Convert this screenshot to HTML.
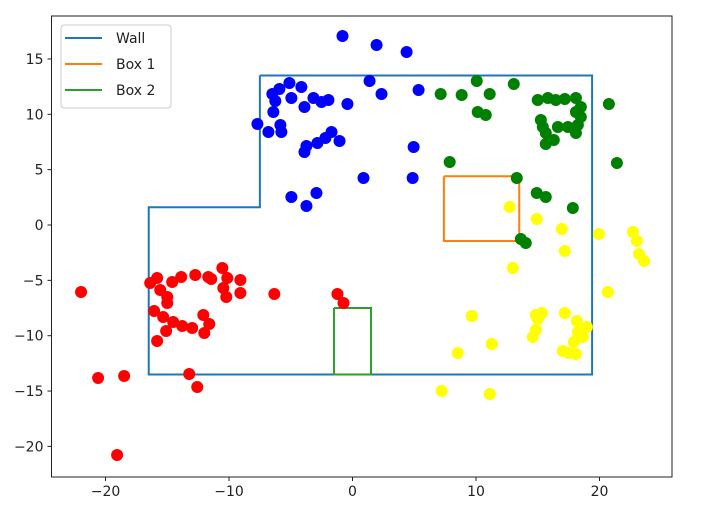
<!DOCTYPE html>
<html><head><meta charset="utf-8"><style>
html,body{margin:0;padding:0;background:#fff;}
svg{display:block;font-family:"DejaVu Sans","Liberation Sans",sans-serif;}
</style></head><body>
<svg id="chart" width="710" height="515" viewBox="0 0 710 515" xmlns="http://www.w3.org/2000/svg">
<g id="plot"></g>
</svg>
<script>
const xTicks=[-20,-10,0,10,20];
const yTicks=[-20,-15,-10,-5,0,5,10,15];
const wallX=[-7.5,19.4,19.4,-16.5,-16.5,-7.5,-7.5];
const wallY=[13.5,13.5,-13.5,-13.5,1.6,1.6,13.5];
const box1X=[7.4,13.5,13.5,7.4,7.4];
const box1Y=[4.4,4.4,-1.45,-1.45,4.4];
const box2X=[-1.5,1.5,1.5,-1.5,-1.5];
const box2Y=[-7.5,-7.5,-13.5,-13.5,-7.5];
const blueX=[-0.81,1.95,4.38,1.38,2.35,5.35,-5.11,-4.14,-5.92,-6.49,-4.95,-6.25,-3.16,-2.51,-1.95,-3.89,-0.41,-6.41,-7.7,-5.84,-6.81,-5.76,-1.7,-2.19,-2.84,-1.05,-3.73,-3.89,4.95,0.89,4.87,-4.95,-2.92,-3.73];
const blueY=[17.07,16.26,15.63,13.01,11.83,12.2,12.83,12.47,12.29,11.83,11.47,11.2,11.47,11.11,11.29,10.66,10.93,10.21,9.12,9.03,8.4,8.4,8.4,7.86,7.41,7.59,7.14,6.59,7.05,4.25,4.25,2.53,2.89,1.72];
const greenX=[10.06,13.06,7.14,8.84,11.11,10.14,10.79,15.0,15.82,16.46,17.19,18.09,18.49,18.09,18.49,15.25,15.41,16.63,17.44,18.25,18.09,15.65,16.3,15.65,20.76,21.41,7.87,13.3,14.92,15.65,17.84,13.63,14.03];
const greenY=[13.01,12.74,11.83,11.74,11.83,10.21,9.94,11.29,11.47,11.29,11.38,11.47,10.66,10.21,9.76,9.49,8.85,8.85,8.85,9.03,8.31,8.31,7.68,7.32,10.93,5.6,5.69,4.25,2.89,2.53,1.54,-1.26,-1.63];
const redX=[-21.98,-15.82,-16.38,-15.57,-14.6,-13.87,-12.73,-11.68,-11.44,-10.54,-10.14,-9.08,-10.46,-10.22,-9.08,-6.33,-15.0,-15.0,-16.06,-15.33,-14.52,-13.79,-12.98,-12.08,-11.6,-12.0,-15.09,-15.82,-20.6,-18.49,-13.22,-12.57,-1.22,-0.73,-19.06];
const redY=[-6.05,-4.79,-5.24,-5.87,-5.15,-4.7,-4.52,-4.7,-4.88,-3.88,-4.79,-4.97,-5.69,-6.5,-6.14,-6.23,-6.5,-7.05,-7.77,-8.31,-8.76,-9.12,-9.3,-8.13,-8.94,-9.76,-9.58,-10.48,-13.82,-13.64,-13.46,-14.63,-6.23,-7.05,-20.78];
const yellowX=[12.73,14.92,16.95,17.19,19.95,22.71,23.03,23.2,23.6,12.98,20.68,9.65,14.84,15.33,15.0,17.19,18.17,18.98,14.84,14.6,18.25,18.65,17.92,11.27,8.52,17.03,17.52,18.09,7.22,11.11];
const yellowY=[1.63,0.54,-0.36,-2.35,-0.81,-0.63,-1.45,-2.62,-3.25,-3.88,-6.05,-8.22,-8.13,-7.95,-8.49,-7.95,-8.67,-9.21,-9.49,-10.12,-9.67,-10.12,-10.57,-10.75,-11.56,-11.38,-11.56,-11.65,-15.0,-15.27];

const NS="http://www.w3.org/2000/svg";
const L=51.5,R=672,T=16,B=477;
const X0=352.5,XS=12.35,Y0=225,YS=11.07;
const sx=v=>X0+v*XS, sy=v=>Y0-v*YS;
const g=document.getElementById('plot');
function mk(t,a,p){const e=document.createElementNS(NS,t);for(const k in a)e.setAttribute(k,a[k]);(p||g).appendChild(e);return e;}

const frame=mk('rect',{x:L,y:T,width:R-L,height:B-T,fill:'none',stroke:'#222','stroke-width':1});


xTicks.forEach(v=>{
  const tk=mk('line',{x1:sx(v),x2:sx(v),y1:B,y2:B+4,stroke:'#222'});
  
  
  const t=mk('text',{x:sx(v),y:B+19,'text-anchor':'middle','font-size':14,fill:'#222'});
  t.textContent=(v<0?'\u2212'+(-v):String(v));
  
  
});
yTicks.forEach(v=>{
  const tk=mk('line',{x1:L-4,x2:L,y1:sy(v),y2:sy(v),stroke:'#222'});
  
  
  const t=mk('text',{x:L-8,y:sy(v)+5,'text-anchor':'end','font-size':14,fill:'#222'});
  t.textContent=(v<0?'\u2212'+(-v):String(v));
  
  
});
function poly(xs,ys,c,name){
  const pts=xs.map((x,i)=>sx(x)+','+sy(ys[i])).join(' ');
  const p=mk('polyline',{points:pts,fill:'none',stroke:c,'stroke-width':2});
  
  
}
poly(wallX,wallY,'#1f77b4','wall-line');
poly(box1X,box1Y,'#ff7f0e','box1-line');
poly(box2X,box2Y,'#2ca02c','box2-line');
function pts(xs,ys,c,name){
  xs.forEach((x,i)=>{
    const d=mk('circle',{cx:sx(x),cy:sy(ys[i]),r:6,fill:c});
    
    
  });
}
pts(blueX,blueY,'#0000ff','blue-point');
pts(greenX,greenY,'#008000','green-point');
pts(redX,redY,'#ff0000','red-point');
pts(yellowX,yellowY,'#ffff00','yellow-point');

const lg=mk('g',{});


mk('rect',{x:61,y:25,width:110,height:83,rx:3,fill:'#fff','fill-opacity':0.8,stroke:'#ccc'},lg);
[['Wall','#1f77b4'],['Box 1','#ff7f0e'],['Box 2','#2ca02c']].forEach((e,i)=>{
  const y=38+i*26;
  const ln=mk('line',{x1:65,x2:102,y1:y,y2:y,stroke:e[1],'stroke-width':2},lg);
  
  
  const t=mk('text',{x:116,y:y+5,'font-size':14,fill:'#222'},lg);
  t.textContent=e[0];
  
  
});
</script>
</body></html>
